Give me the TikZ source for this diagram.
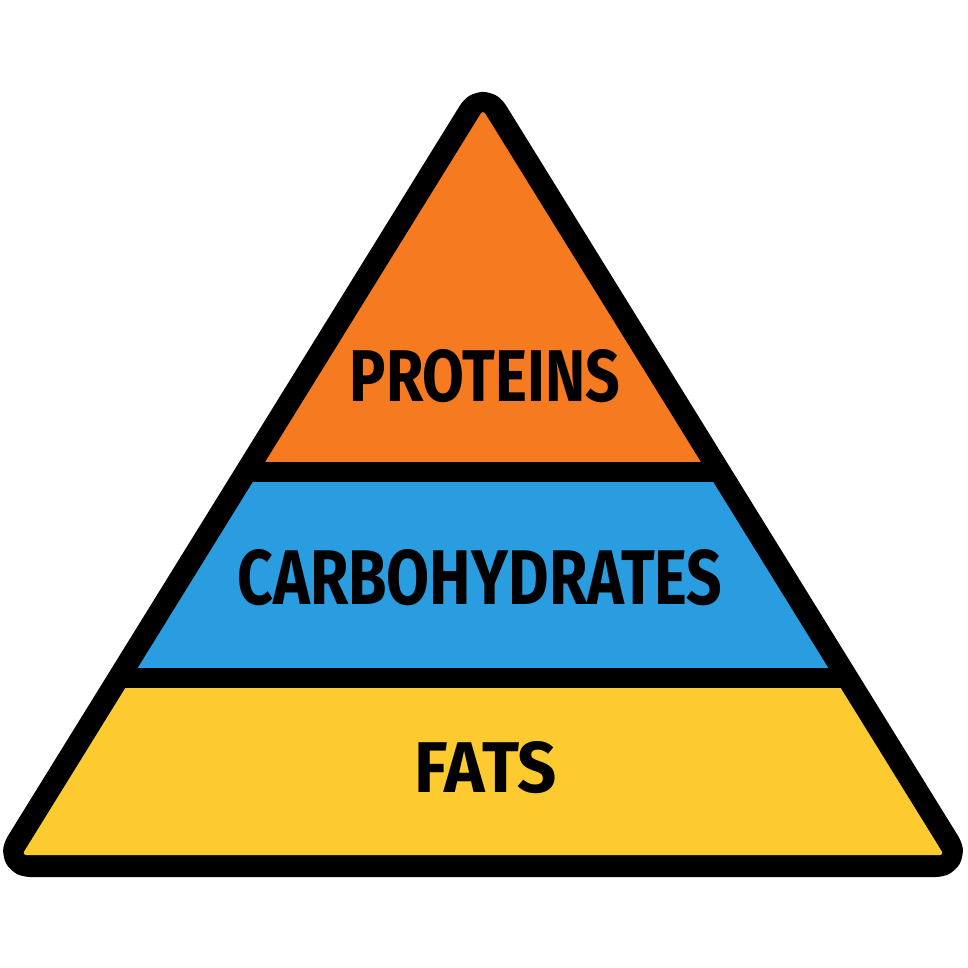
\documentclass[tikz,border=0pt]{standalone}
\usepackage{fontspec}
\usepackage{graphicx}
\newfontfamily\tierfont{Fira Sans}[FakeStretch=0.8]
\definecolor{protorange}{RGB}{245,122,32}
\definecolor{carbblue}{RGB}{42,157,224}
\definecolor{fatyellow}{RGB}{253,203,47}
\tikzset{%
  outline/.style={%
    draw=black,%
    fill=black,%
    line width=44pt,%
    line join=round,%
    rounded corners=8pt},%
  tier/.style={%
    inner sep=0pt,%
    text=black,%
    font=\tierfont\bfseries}
}

\begin{document}
\begin{tikzpicture}[x=1pt,y=-1pt]
  \useasboundingbox (0,0) rectangle (968,968);
  % pyramid corners
  \coordinate (apex) at (483,110);
  \coordinate (left) at (22,855);
  \coordinate (right) at (944,855);
  \draw [outline] (apex) -- (left) -- (right) -- cycle;
  \begin{scope}
    \clip [rounded corners=4pt] (apex) -- (left) -- (right) -- cycle;
    \fill [protorange] (0,100) rectangle (968,462);
    \fill [carbblue] (0,482) rectangle (968,668);
    \fill [fatyellow] (0,688) rectangle (968,860);
  \end{scope}
  \node [tier] (proteins) at (485,376) {\resizebox{270pt}{52pt}{PROTEINS}};
  \node [tier] (carbs) at (480,578) {\resizebox{485pt}{55pt}{CARBOHYDRATES}};
  \node [tier] (fats) at (486,768) {\resizebox{142pt}{51pt}{FATS}};
\end{tikzpicture}
\end{document}
